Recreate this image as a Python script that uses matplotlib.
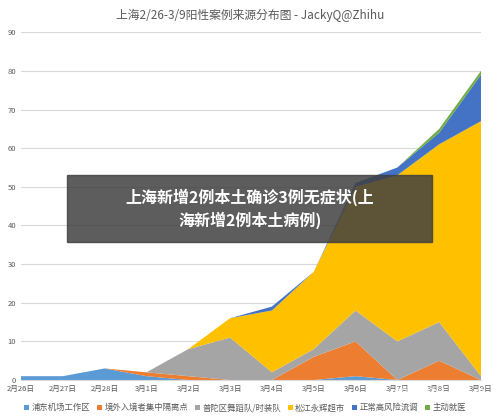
import matplotlib
matplotlib.use("Agg")
import matplotlib.pyplot as plt
import numpy as np

plt.rcParams['font.family'] = ['Noto Sans CJK SC', 'DejaVu Sans']

dates = ["2月26日","2月27日","2月28日","3月1日","3月2日","3月3日","3月4日","3月5日","3月6日","3月7日","3月8日","3月9日"]
names = ["浦东机场工作区","境外入境者集中隔离点","普陀区舞蹈队/时装队","松江永辉超市","正常高风险流调","主动就医"]
pudong = [1,1,3,1,0,0,0,0,1,0,0,0]
jingwai = [0,0,0,1,1,0,0,6,9,0,5,0]
putuo = [0,0,0,0,7,11,2,2,8,10,10,1]
songjiang = [0,0,0,0,0,5,16,20,32,43,46,66]
zhengchang = [0,0,0,0,0,0,1,0,1,2,3,12]
zhudong = [0,0,0,0,0,0,0,0,0,0,1,1]
colors = ["#5B9BD5","#ED7D31","#A5A5A5","#FFC000","#4472C4","#70AD47"]

fig = plt.figure(figsize=(5.0,4.19), dpi=100)
ax = fig.add_axes([0.042,0.093,0.92,0.83])
x = np.arange(len(dates))
ax.stackplot(x, pudong, jingwai, putuo, songjiang, zhengchang, zhudong, colors=colors, labels=names)
ax.set_xlim(0, len(dates)-1)
ax.set_ylim(0, 90)
ax.set_yticks(range(0,91,10))
ax.set_xticks(x)
ax.set_xticklabels(dates, fontsize=5.5, color="#595959")
ax.tick_params(axis='y', labelsize=5.5, colors="#595959", length=0)
ax.tick_params(axis='x', length=0)
ax.grid(axis='y', color="#D9D9D9", lw=0.8)
ax.set_axisbelow(True)
for s in ['top','right','left']:
    ax.spines[s].set_visible(False)
ax.spines['bottom'].set_color("#D9D9D9")
fig.text(0.5, 0.962, "上海2/26-3/9阳性案例来源分布图 - JackyQ@Zhihu", ha='center', va='center', fontsize=8.5, color="#595959")
fig.legend(loc='lower center', bbox_to_anchor=(0.49, -0.002), ncol=6, fontsize=6, frameon=False,
           handlelength=0.6, handleheight=0.6, columnspacing=0.8, handletextpad=0.3, labelcolor="#595959")
fig.patches.append(plt.Rectangle((0.134,0.422),0.73,0.16, transform=fig.transFigure, color="#404040", alpha=0.85, zorder=5))
fig.text(0.5, 0.502, "上海新增2例本土确诊3例无症状(上\n海新增2例本土病例)", ha='center', va='center', fontsize=11.5,
         color="white", fontweight='bold', zorder=6, linespacing=1.4)
fig.text(0.88, 0.058, "知乎 @JackyQ", ha='center', va='center', fontsize=10, color="white", alpha=0.8, zorder=6)
fig.savefig("out.png", dpi=100)
